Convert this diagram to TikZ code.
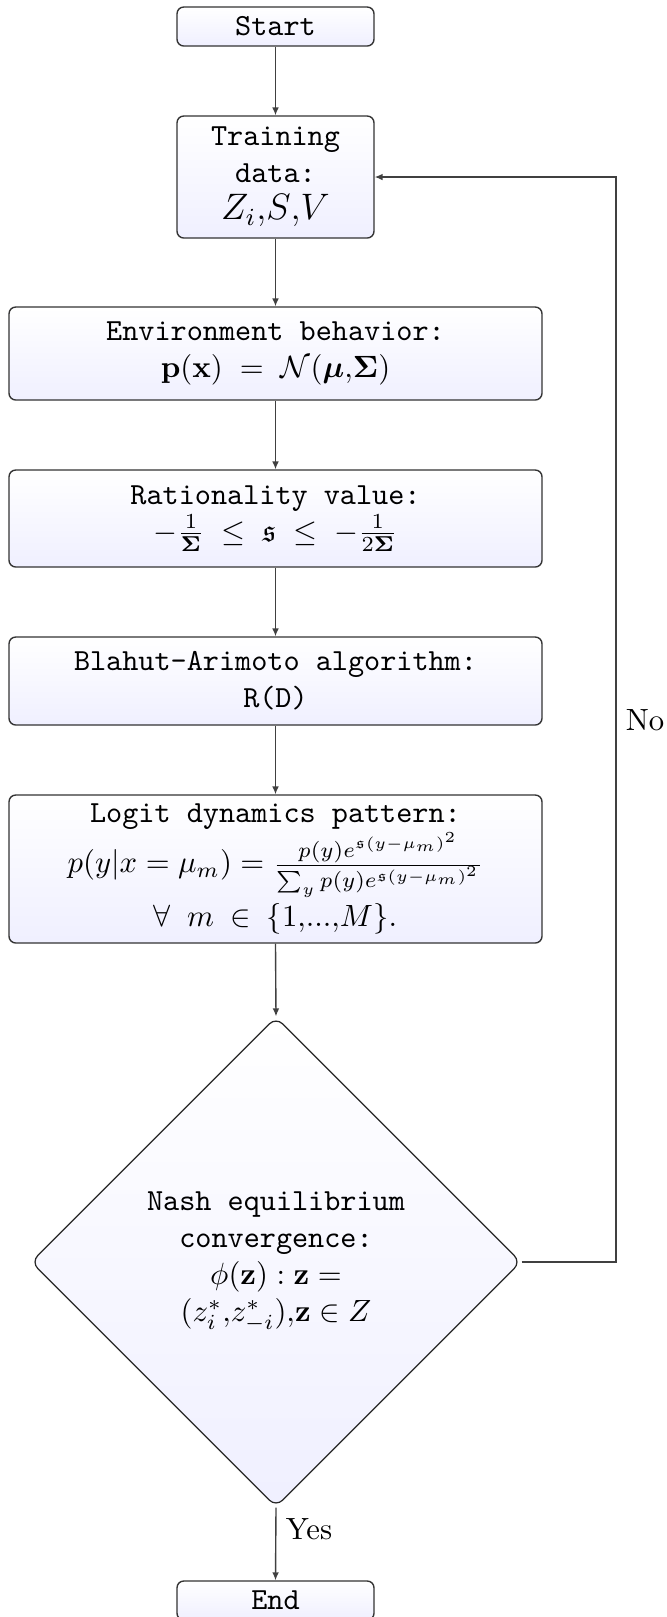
\documentclass[tikz,border=0pt]{standalone}
\usepackage{amsmath,amssymb}
\usetikzlibrary{shapes.geometric,arrows.meta}
\newcommand\pxu{0.3257pt}
\tikzset{
  box/.style={rectangle, rounded corners=2.2pt, draw=black!80, line width=0.45pt,
    top color=white, bottom color=blue!6, align=center, font=\ttfamily, inner sep=2pt},
  decbox/.style={diamond, aspect=1, rounded corners=3pt, draw=black!85, line width=0.4pt,
    top color=white, bottom color=blue!6, align=center, font=\ttfamily, inner sep=0pt},
  con/.style={draw=black!75, line width=0.45pt, -{Latex[length=2.6pt,width=2.2pt]}},
  lbl/.style={font=\rmfamily, inner sep=0pt}
}
\begin{document}
\begin{tikzpicture}[x=\pxu,y=-\pxu]
\useasboundingbox (0,0) rectangle (667,1617);
\node[box, minimum width={197*\pxu}, minimum height={39*\pxu}] (start) at (275.5,26.5) {Start};
\node[box, minimum width={197*\pxu}, minimum height={122*\pxu}] (train) at (275.5,177) {Training\\data:\\{\large$Z_i{,}S{,}V$}};
\node[box, minimum width={533*\pxu}, minimum height={93*\pxu}] (env) at (275.5,353.5) {Environment behavior:\\$\mathbf{p(x)} \;=\; \mathcal{N}\mathbf{(}\boldsymbol{\mu}{,}\boldsymbol{\Sigma}\mathbf{)}$};
\node[box, minimum width={533*\pxu}, minimum height={97*\pxu}] (rat) at (275.5,518.5) {Rationality value:\\$-\frac{1}{\mathbf{\Sigma}} \;\le\; \mathfrak{s} \;\le\; -\frac{1}{2\mathbf{\Sigma}}$};
\node[box, minimum width={533*\pxu}, minimum height={88*\pxu}] (bla) at (275.5,681) {Blahut-Arimoto algorithm:\\R(D)};
\node[box, minimum width={533*\pxu}, minimum height={148*\pxu}] (logit) at (275.5,869) {Logit dynamics pattern:\\$p(y|x = \mu_m) = \frac{p(y)e^{\mathfrak{s}(y-\mu_m)^2}}{\sum_y p(y)e^{\mathfrak{s}(y-\mu_m)^2}}$\\[1pt]$\forall\ m\ {\in}\ \{1{,}...{,}M\}.$};
\node[decbox, minimum width={490*\pxu}, minimum height={490*\pxu}] (dec) at (276,1262) {Nash equilibrium\\convergence:\\$\phi\mathbf{(z)} : \mathbf{z} =$\\$(z^*_i{,}z^*_{-i}){,}\mathbf{z} \in Z$};
\node[box, minimum width={197*\pxu}, minimum height={39*\pxu}] (finish) at (275.5,1600.5) {End};
\coordinate (fbA) at (616,1262);
\coordinate (fbB) at (616,177);
\node[lbl] (yes) at (309,1529) {Yes};
\node[lbl] (no) at (645,720) {No};
\draw[con] (start.south) -- (train.north);
\draw[con] (train.south) -- (env.north);
\draw[con] (env.south) -- (rat.north);
\draw[con] (rat.south) -- (bla.north);
\draw[con] (bla.south) -- (logit.north);
\draw[con] (logit.south) -- (dec.north);
\draw[con] (dec.south) -- (finish.north);
\draw[con] (dec.east) -- (fbA) -- (fbB) -- (train.east);
\end{tikzpicture}
\end{document}
